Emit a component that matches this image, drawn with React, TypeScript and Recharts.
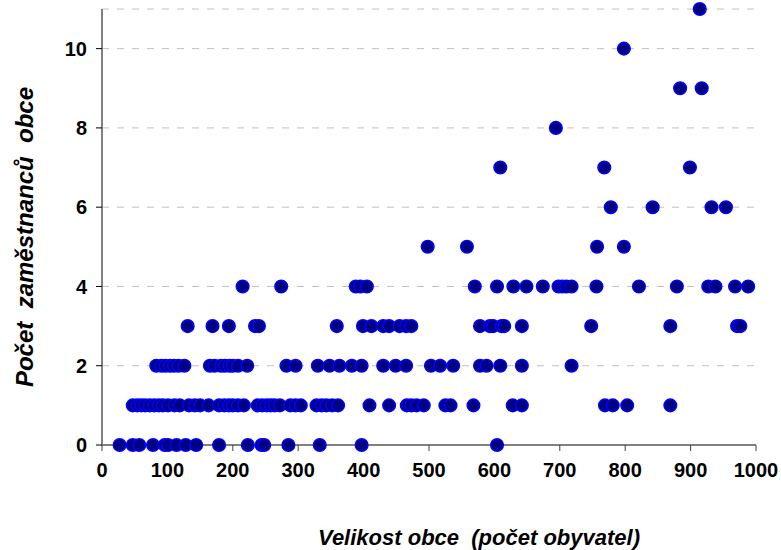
import { ScatterChart, Scatter, XAxis, YAxis, CartesianGrid } from 'recharts'

// population of the municipality, grouped by number of employees (0..11)
const pop0 = [27, 47, 57, 78, 96, 101, 114, 128, 144, 179, 223, 244, 248, 285, 333, 397, 604]
const pop1 = [
  47, 54, 60, 66, 73, 80, 87, 93, 101, 111, 119, 133, 142, 150, 163, 179, 187, 194, 200, 208, 217,
  238, 245, 252, 258, 264, 272, 288, 296, 304, 328, 336, 343, 352, 361, 409, 439, 466, 473, 481,
  492, 525, 533, 568, 628, 642, 769, 781, 803, 869,
]
const pop2 = [
  83, 91, 97, 104, 110, 117, 126, 165, 172, 182, 188, 195, 200, 208, 222, 282, 296, 330, 348, 363,
  382, 397, 430, 449, 465, 503, 517, 537, 578, 588, 609, 642, 718,
]
const pop3 = [
  131, 169, 194, 234, 240, 359, 399, 412, 430, 439, 455, 465, 473, 578, 593, 598, 611, 615, 642,
  748, 869, 971, 976,
]
const pop4 = [
  215, 274, 388, 395, 405, 570, 604, 629, 649, 674, 698, 704, 710, 718, 756, 821, 879, 927, 938,
  968, 988,
]
const pop5 = [498, 558, 757, 798]
const pop6 = [778, 842, 932, 954]
const pop7 = [609, 768, 899]
const pop8 = [694]
const pop9 = [884, 917]
const pop10 = [798]
const pop11 = [914]

const groups = [pop0, pop1, pop2, pop3, pop4, pop5, pop6, pop7, pop8, pop9, pop10, pop11]

const xTicks = [0, 100, 200, 300, 400, 500, 600, 700, 800, 900, 1000]
const yTicks = [0, 2, 4, 6, 8, 10]

const points = groups.flatMap((pops, employees) => pops.map((population) => ({ population, employees })))

const FONT = '"Liberation Sans", Arial, sans-serif'

const tickStyle = { fontFamily: FONT, fontSize: 20, fontWeight: 700, fill: '#000' }

function Dot(props: any) {
  const { cx, cy } = props
  return <circle cx={cx} cy={cy} r={6.3} fill="#000080" stroke="#0000ff" strokeWidth={1.5} />
}

export default function App() {
  return (
    <div style={{ position: 'absolute', left: 0, top: 0, background: '#fff' }}>
      <ScatterChart width={781} height={550} margin={{ top: 9, right: 25, bottom: 75, left: 0 }}>
        <CartesianGrid vertical={false} stroke="#c0c0c0" strokeDasharray="7 8" />
        <XAxis
          type="number"
          dataKey="population"
          domain={[0, 1000]}
          ticks={xTicks}
          interval={0}
          height={30}
          stroke="#808080"
          strokeWidth={2}
          tickSize={6}
          tickMargin={12}
          tickLine={{ stroke: '#404040', strokeWidth: 1 }}
          tick={tickStyle}
          label={{
            content: ({ viewBox }: any) => (
              <text
                x={viewBox.x + viewBox.width / 2 + 50}
                y={viewBox.y + viewBox.height + 70}
                textAnchor="middle"
                style={{ fontFamily: FONT, fontSize: 22, fontWeight: 700, fontStyle: 'italic', whiteSpace: 'pre' }}
              >
                {'Velikost obce  (počet obyvatel)'}
              </text>
            ),
          }}
        />
        <YAxis
          type="number"
          dataKey="employees"
          domain={[0, 11]}
          ticks={yTicks}
          interval={0}
          width={102}
          stroke="#808080"
          strokeWidth={2}
          tickSize={6}
          tickMargin={9}
          tickLine={{ stroke: '#000', strokeWidth: 1 }}
          tick={tickStyle}
          label={{
            content: ({ viewBox }: any) => {
              const cx = 32.5
              const cy = viewBox.y + viewBox.height / 2 + 10
              return (
                <text
                  x={cx}
                  y={cy}
                  transform={`rotate(-90, ${cx}, ${cy})`}
                  textAnchor="middle"
                  style={{ fontFamily: FONT, fontSize: 24, fontWeight: 700, fontStyle: 'italic', whiteSpace: 'pre' }}
                >
                  {'Počet  zaměstnanců  obce'}
                </text>
              )
            },
          }}
        />
        <Scatter data={points} shape={<Dot />} isAnimationActive={false} />
      </ScatterChart>
    </div>
  )
}
